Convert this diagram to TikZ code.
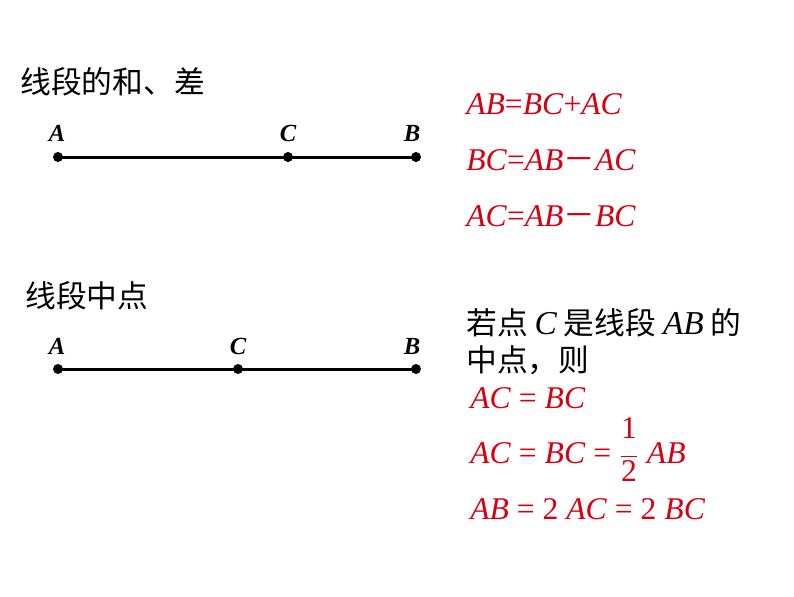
\documentclass[tikz,border=0pt]{standalone}
\usepackage{fontspec}
\setmainfont{Liberation Serif}
\newfontfamily\cjk{Noto Sans CJK SC}
\definecolor{eqred}{RGB}{215,0,18}
\tikzset{
  heading/.style={anchor=west,font=\cjk\fontsize{17.5}{20}\selectfont},
  ptlabel/.style={font=\fontsize{14}{16}\selectfont\bfseries\itshape},
  eqline/.style={anchor=west,text=eqred,font=\fontsize{18}{21}\selectfont},
  segline/.style={line width=1.7pt},
}
\newcommand{\minus}{{\cjk －}}
\newcommand{\halfnum}[1]{\mbox{\fontsize{18}{21}\selectfont #1}}
\begin{document}
\begin{tikzpicture}[x=0.02cm,y=0.02cm]
				\tikzstyle{every node}+=[inner sep=0pt]
				\useasboundingbox (0,0) rectangle (794,-596);
				% sum and difference
				\node[heading] (title1) at (20,-82) {线段的和、差};
				\coordinate (a1) at (58,-157);
				\coordinate (c1) at (288,-157);
				\coordinate (b1) at (416,-157);
				\draw [segline] (a1) -- (c1) -- (b1);
				\fill (a1) circle (0.1cm);
				\fill (c1) circle (0.1cm);
				\fill (b1) circle (0.1cm);
				\node[ptlabel] (la1) at (57,-133) {A};
				\node[ptlabel] (lc1) at (288,-133) {C};
				\node[ptlabel] (lb1) at (412,-133) {B};
				\node[eqline] (eq1) at (466,-104) {\textit{AB}=\textit{BC}+\textit{AC}};
				\node[eqline] (eq2) at (466,-160) {\textit{BC}=\textit{AB}\minus\textit{AC}};
				\node[eqline] (eq3) at (466,-216) {\textit{AC}=\textit{AB}\minus\textit{BC}};
				% midpoint
				\node[heading] (title2) at (25,-296) {线段中点};
				\coordinate (a2) at (58,-369);
				\coordinate (c2) at (238,-369);
				\coordinate (b2) at (416,-369);
				\draw [segline] (a2) -- (c2) -- (b2);
				\fill (a2) circle (0.1cm);
				\fill (c2) circle (0.1cm);
				\fill (b2) circle (0.1cm);
				\node[ptlabel] (la2) at (57,-346) {A};
				\node[ptlabel] (lc2) at (238,-346) {C};
				\node[ptlabel] (lb2) at (412,-346) {B};
				\node[heading] (cond1) at (466,-323) {若点 {\rmfamily\itshape\fontsize{19}{20}\selectfont C} 是线段 {\rmfamily\itshape\fontsize{19}{20}\selectfont AB} 的};
				\node[heading] (cond2) at (466,-360) {中点，则};
				\node[eqline] (res1) at (470,-398) {\textit{AC} = \textit{BC}};
				\node[eqline,anchor=base west] (res2) at (470,-463.5) {\textit{AC} = \textit{BC} = $\frac{\halfnum{1}\rule[-9.5pt]{0pt}{0pt}}{\rule{0pt}{14pt}\halfnum{2}}$ \textit{AB}};
				\node[eqline] (res3) at (470,-509) {\textit{AB} = 2 \textit{AC} = 2 \textit{BC}};
			\end{tikzpicture}
\end{document}
